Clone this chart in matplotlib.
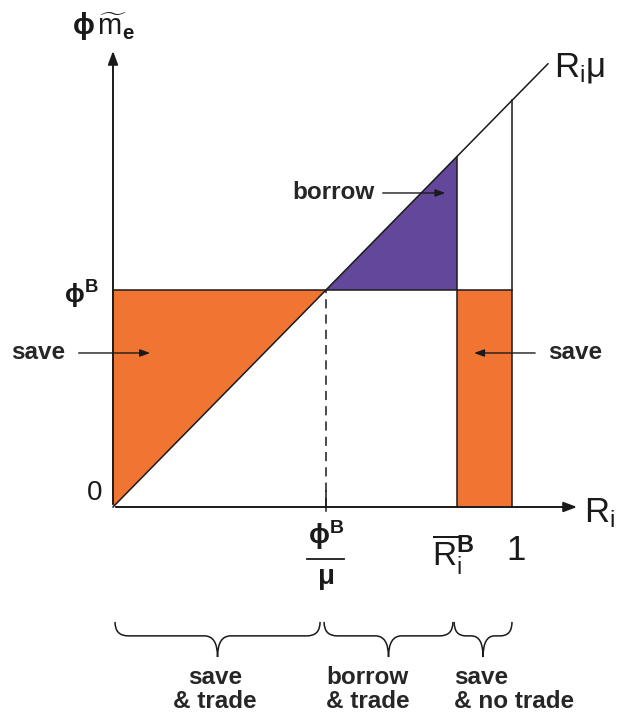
import numpy as np
import matplotlib.pyplot as plt
from matplotlib.path import Path
from matplotlib.patches import PathPatch, Polygon

plt.rcParams['font.family'] = ['Liberation Sans', 'DejaVu Sans']
plt.rcParams['mathtext.fontset'] = 'custom'
plt.rcParams['mathtext.rm'] = 'Liberation Sans'
plt.rcParams['mathtext.it'] = 'Liberation Sans'
plt.rcParams['mathtext.bf'] = 'Liberation Sans:bold'

# model values (x in units of R_i, y in units of phi*m_e)
phiB = 0.544          # phi^B level
mu = 1.019            # slope of the R_i*mu line
R_bar = 0.862         # \bar R_i^B
R_one = 1.0           # R_i = 1
x_line_end = 1.09     # end of the R_i*mu line
x_axis_end = 1.17
y_axis_end = 1.15

# braces below the axis: (start, end), label position and labels
brace_spans = [(0.005, 0.519), (0.529, 0.852), (0.855, 1.0)]
brace_label_x = [0.256, 0.638, 0.855]
brace_labels = ['save\n& trade', 'borrow\n& trade', 'save\n& no trade']

orange = '#F07533'
purple = '#62479B'
ink = '#1a1a1a'
text_ink = '#262626'

fig = plt.figure(figsize=(6.37, 7.22), dpi=100)
ax = fig.add_axes([0, 0, 1, 1])
ax.set_xlim(-113 / 399, 524 / 399)
ax.set_ylim(-215 / 399, 507 / 399)
ax.axis('off')

x_kink = phiB / mu

# shaded regions
ax.add_patch(Polygon([(0, 0), (0, phiB), (x_kink, phiB)], closed=True,
                     facecolor=orange, edgecolor='none'))
ax.add_patch(Polygon([(x_kink, phiB), (R_bar, mu * R_bar), (R_bar, phiB)], closed=True,
                     facecolor=purple, edgecolor='none'))
ax.add_patch(Polygon([(R_bar, 0), (R_bar, phiB), (R_one, phiB), (R_one, 0)], closed=True,
                     facecolor=orange, edgecolor='none'))

lw = 1.1
# R_i * mu line
ax.plot([0, x_line_end], [0, mu * x_line_end], color=ink, lw=lw)
# phi^B horizontal
ax.plot([0, R_one], [phiB, phiB], color=ink, lw=lw)
# verticals
ax.plot([R_bar, R_bar], [0, mu * R_bar], color=ink, lw=lw)
ax.plot([R_one, R_one], [0, mu * R_one], color=ink, lw=lw)
ax.plot([x_kink, x_kink], [0, phiB], color=ink, lw=lw, ls=(0, (6, 4)))
ax.plot([x_kink, x_kink], [-0.01, 0.04], color=ink, lw=lw)

# axes with arrows
arrow_kw = dict(arrowstyle='-|>,head_length=0.8,head_width=0.3', color=ink, lw=1.4)
ax.annotate('', xy=(x_axis_end, 0), xytext=(0, 0), arrowprops=arrow_kw)
ax.annotate('', xy=(0, y_axis_end), xytext=(0, 0), arrowprops=arrow_kw)

# axis labels
ax.text(-0.025, 1.205, r'$\mathbf{\phi}\,\widetilde{\mathrm{m}}_\mathbf{e}$', fontsize=21,
        ha='center', va='center', color=ink)
ax.text(1.105, 1.10, r'$\mathrm{R}_{\mathrm{i}}\mathrm{\mu}$', fontsize=25,
        ha='left', va='center', color=ink)
ax.text(1.18, -0.015, r'$\mathrm{R}_{\mathrm{i}}$', fontsize=25,
        ha='left', va='center', color=ink)
ax.text(-0.045, 0.035, '0', fontsize=20, ha='center', va='center', color=ink)
ax.text(-0.035, phiB - 0.012, r'$\mathbf{\phi}^{\mathbf{B}}$', fontsize=19,
        ha='right', va='center', color=ink)

# tick labels under axis
ax.text(x_kink, -0.07, r'$\mathbf{\phi}^{\mathbf{B}}$', fontsize=20, ha='center', va='center', color=ink)
ax.plot([x_kink - 0.048, x_kink + 0.045], [-0.13, -0.13], color=ink, lw=1.3)
ax.text(x_kink, -0.18, r'$\mathbf{\mu}$', fontsize=20, ha='center', va='center', color=ink)
ax.text(R_bar - 0.01, -0.12, r'$\overline{\mathrm{R}}_{\mathrm{i}}^{\mathbf{B}}$', fontsize=24,
        ha='center', va='center', color=ink)
ax.text(R_one + 0.01, -0.11, '1', fontsize=25, ha='center', va='center', color=ink)

# region annotations
label_kw = dict(fontsize=17.5, fontweight='bold', color=text_ink, va='center')
small_arrow = dict(arrowstyle='-|>,head_length=0.6,head_width=0.22', color=ink, lw=1.0)
ax.text(-0.12, 0.386, 'save', ha='right', **label_kw)
ax.annotate('', xy=(0.10, 0.386), xytext=(-0.093, 0.386), arrowprops=small_arrow)
ax.text(0.655, 0.787, 'borrow', ha='right', **label_kw)
ax.annotate('', xy=(0.84, 0.787), xytext=(0.669, 0.787), arrowprops=small_arrow)
ax.text(1.09, 0.386, 'save', ha='left', **label_kw)
ax.annotate('', xy=(0.898, 0.386), xytext=(1.065, 0.386), arrowprops=small_arrow)

# braces
y_top, y_mid, y_tip = -0.288, -0.323, -0.376
for (x0, x1), lx, lab in zip(brace_spans, brace_label_x, brace_labels):
    mid = (x0 + x1) / 2
    r = min(0.033, (x1 - x0) / 5)
    verts = [(x0, y_top), (x0, y_mid), (x0 + r, y_mid),
             (mid - r, y_mid), (mid, y_mid), (mid, y_tip),
             (mid, y_tip), (mid, y_mid), (mid + r, y_mid),
             (x1 - r, y_mid), (x1, y_mid), (x1, y_top)]
    codes = [Path.MOVETO, Path.CURVE3, Path.CURVE3,
             Path.LINETO, Path.CURVE3, Path.CURVE3,
             Path.MOVETO, Path.CURVE3, Path.CURVE3,
             Path.LINETO, Path.CURVE3, Path.CURVE3]
    ax.add_patch(PathPatch(Path(verts, codes), facecolor='none', edgecolor=ink, lw=1.1))
    ha = 'left' if lab.endswith('no trade') else 'center'
    ax.text(lx, -0.457, lab, ha=ha, va='center', multialignment=ha,
            fontsize=17.5, fontweight='bold', color=text_ink, linespacing=1.05)

fig.savefig('out.png', dpi=100)
